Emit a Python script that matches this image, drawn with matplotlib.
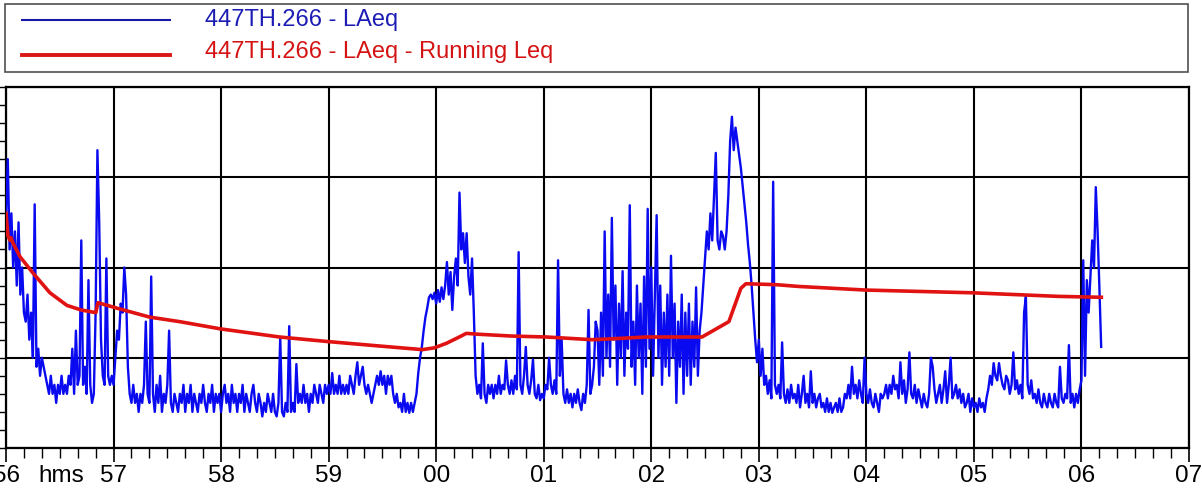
import numpy as np
import matplotlib
matplotlib.use("Agg")
import matplotlib.pyplot as plt
from matplotlib.ticker import MultipleLocator
from matplotlib.transforms import offset_copy
from matplotlib.lines import Line2D
from matplotlib.patches import Rectangle

plt.rcParams['font.family'] = ['Liberation Sans', 'DejaVu Sans']

# ---- LAeq (1 s samples), one list per minute, starting at hh:56:00 ----
laeq_56 = [66, 72, 62, 66, 60, 64, 58, 65, 57, 60,
           55, 54, 57, 52, 55, 50, 67, 49, 51, 48,
           50, 49, 48, 47, 46, 48, 46, 47, 45, 47,
           46, 48, 46, 47, 46, 48, 47, 51, 46, 53,
           47, 48, 63, 47, 49, 46, 58.6, 47, 45, 46,
           55, 73, 65, 52, 48, 47, 61, 48, 47, 48]
laeq_57 = [47, 50, 53, 52, 56, 55, 60, 57, 49, 46,
           45, 47, 45, 46, 44, 46, 45, 47, 54, 46,
           45, 59, 46, 44, 47, 45, 48, 44, 46, 45,
           47, 53, 45, 44, 46, 45, 44, 46, 45, 47,
           44, 46, 45, 47, 44, 46, 45, 44, 46, 45,
           47, 45, 44, 46, 45, 47, 44, 46, 45, 46]
laeq_58 = [44, 46, 47, 45, 46, 44, 47, 45, 46, 44,
           46, 45, 47, 44, 46, 45, 44, 46, 47, 45,
           44, 46, 45, 43.5, 45, 44, 46, 45, 44, 46,
           44, 43.5, 45, 52.3, 44, 43.5, 45, 44, 53.5, 44,
           45, 44, 49.3, 45, 46, 45, 47, 45, 46, 44,
           46, 45, 47, 46, 45, 47, 46, 45, 47, 46]
laeq_59 = [47, 46, 48.3, 46, 47, 46, 48, 46, 47, 46,
           47, 46, 48, 47, 46, 48, 49.5, 47, 48, 49,
           47, 46, 47, 46, 45, 46, 47, 48, 47, 48.5,
           47, 48, 46, 48, 47, 48, 46, 45, 46, 44.5,
           45, 44, 46, 44, 45, 43.9, 45, 44, 45, 46,
           48.3, 50, 51.2, 53, 54.5, 55.5, 56.7, 57, 56.5, 57.2]
laeq_00 = [56, 57.5, 56.2, 57.8, 56.5, 58, 60.6, 57, 59.5, 55.3,
           59, 61, 58, 68.3, 62, 63.8, 60.5, 63.8, 59, 57,
           61, 55, 48, 46, 47, 45.5, 51.6, 46, 45, 47,
           46, 47, 45.5, 47, 46, 48, 46, 47, 46.5, 49.7,
           47, 46, 47.5, 46, 48, 46.5, 61.7, 47, 46, 48,
           51.2, 47, 46, 47.5, 49.8, 46, 45.5, 47, 45.3, 46]
laeq_01 = [45.5, 47, 46.5, 50, 47, 46, 47.5, 46, 60.8, 48,
           52, 46, 45, 46.5, 45, 46, 44.5, 46, 45, 46.5,
           45, 44.2, 46, 45, 47, 55.3, 46, 47, 49, 54,
           53, 47, 55, 48, 64, 50, 57, 49, 65.5, 52,
           58, 47, 56, 50, 59.6, 48, 55, 51, 66.9, 49,
           54, 47, 58, 50, 56, 46, 59, 49, 66.5, 51]
laeq_02 = [60, 48, 57, 65.8, 50, 58, 47, 55, 49, 57,
           48, 61.3, 50, 56, 45, 54, 49, 57, 46, 55,
           48, 56, 47, 54, 49, 57.8, 48, 53, 55, 58,
           61, 64, 62, 66, 63, 68, 72.7, 63, 62, 64,
           63.5, 62, 64, 68, 74, 76.7, 73, 75.5, 74, 72.5,
           71, 69, 67, 65, 62.5, 60.5, 58, 55, 52, 49.5]
laeq_03 = [52, 48, 51, 47, 48, 46, 47.5, 45.5, 69.5, 47,
           46, 47, 45.5, 51.7, 46, 45, 46.5, 45, 47, 45.5,
           46, 45, 47, 44.5, 46, 48, 45, 46, 44.5, 48.5,
           45, 46, 44.5, 45.5, 46, 44.5, 45, 44, 45.5, 44,
           45, 43.9, 44.5, 45, 44, 45.5, 44, 44.5, 46, 45.5,
           47, 45.5, 49, 46, 47, 45.5, 47.5, 46, 45, 50]
laeq_04 = [46, 45, 46.5, 45, 44.5, 46, 45, 44, 46, 45.5,
           46, 47, 45.5, 47, 46, 48, 46.5, 47, 45.5, 49.5,
           46, 47.5, 45, 46.5, 50.6, 46, 45.5, 47, 45, 46.5,
           45.5, 44.5, 46, 45, 44.5, 46, 50, 49, 46.5, 45,
           46, 47, 45, 46.5, 48.5, 45, 47, 50, 45.5, 46,
           47, 45.5, 46.5, 45, 46, 44.5, 45, 46, 44, 45.5]
laeq_05 = [44.5, 45, 44, 45.5, 44.5, 45, 44, 45.5, 46.5, 48,
           47, 49.4, 48, 47.5, 49.4, 48, 47, 46.5, 48, 47.5,
           46, 47, 50.6, 46.5, 47.5, 46, 47, 45.5, 55, 56.8,
           47, 46, 47.5, 45.5, 46, 45, 46.5, 45, 44.5, 46,
           45, 44.5, 46, 45, 44.5, 46, 45, 44.5, 49, 45.5,
           45, 46, 45.5, 51.4, 45, 46, 44.5, 46, 45, 46.5]
laeq_06 = [47.5, 60.8, 48, 58.6, 55, 59, 63, 60, 68.9, 64, 57.8, 51.2]

# ---- Running Leq, read at (seconds after :56:00, dB) ----
leq_times = [0, 1.1, 2.2, 2.8, 3.9, 7.8, 15, 24.5, 34, 41.8, 50.1, 51.3, 61.8,
             80.2, 96.9, 119.6, 152.6, 179.2, 208.4, 232.3, 239, 245.7, 252.9,
             256.8, 264, 282.5, 301.4, 327, 338.2, 357.1, 388.3, 403.3, 410,
             412.8, 429.5, 442.3, 479.7, 538.7, 587.2, 611.1]
leq_values = [66.0, 63.5, 63.0, 63.3, 62.7, 61.2, 59.4, 57.2, 55.8, 55.3, 55.0,
              56.1, 55.5, 54.5, 54.0, 53.2, 52.3, 51.8, 51.3, 50.9, 51.1, 51.6,
              52.3, 52.7, 52.6, 52.4, 52.3, 52.0, 52.1, 52.3, 52.3, 54.0, 57.7,
              58.2, 58.1, 57.9, 57.5, 57.2, 56.8, 56.7]

minute_labels = ['56', '57', '58', '59', '00', '01', '02', '03', '04', '05', '06', '07']
series_names = ['447TH.266 - LAeq', '447TH.266 - LAeq - Running Leq']

laeq = np.array(laeq_56 + laeq_57 + laeq_58 + laeq_59 + laeq_00 + laeq_01 +
                laeq_02 + laeq_03 + laeq_04 + laeq_05 + laeq_06)
t = np.arange(len(laeq))

W, H = 1202, 488
fig = plt.figure(figsize=(W / 100, H / 100), dpi=100)
ax = fig.add_axes([6 / W, 40 / H, 1183 / W, 361 / H])

blue = '#0a0af0'
red = '#e01212'
ax.plot(t, laeq, color=blue, lw=1.7, zorder=3)
ax.plot(leq_times, leq_values, color=red, lw=2.6, zorder=4)

ax.set_xlim(0, 660)
ax.set_ylim(40, 80)
ax.set_xticks(np.arange(0, 661, 60), labels=minute_labels)
ax.xaxis.set_minor_locator(MultipleLocator(10))
ax.yaxis.set_major_locator(MultipleLocator(10))
ax.yaxis.set_minor_locator(MultipleLocator(2))
ax.set_axisbelow(True)
ax.grid(which='major', color='black', lw=1.5)

fs = 17.5
ax.tick_params(axis='x', which='major', direction='out', length=10, width=1.2,
               labelsize=fs, pad=2)
ax.tick_params(axis='x', which='minor', direction='out', length=7, width=1.0)
ax.tick_params(axis='y', which='both', direction='out', length=6, width=1.0,
               labelleft=False)
for s in ax.spines.values():
    s.set_linewidth(1.6)
    s.set_color('black')

trans = offset_copy(ax.get_xaxis_transform(), fig=fig, y=-(10 + 2), units='points')
ax.text(31, 0, 'hms', transform=trans, ha='center', va='top', fontsize=fs)

# ---- legend box drawn at the top of the figure ----
lfs = 17
tf = fig.transFigure
fig.add_artist(Rectangle((5 / W, 1 - 72 / H), 1183 / W, 68 / H, transform=tf,
                         fill=False, edgecolor='#505050', lw=1.2))
fig.add_artist(Line2D([22 / W, 170 / W], [1 - 20 / H] * 2, transform=tf,
                      color='#1818a8', lw=1.5))
fig.add_artist(Line2D([22 / W, 170 / W], [1 - 55 / H] * 2, transform=tf,
                      color='#d81818', lw=2.8))
fig.text(205 / W, 1 - 20 / H, series_names[0], color='#1c1cb4', fontsize=lfs,
         ha='left', va='center')
fig.text(205 / W, 1 - 52 / H, series_names[1], color='#d41414', fontsize=lfs,
         ha='left', va='center')

fig.savefig('out.png', dpi=100)
